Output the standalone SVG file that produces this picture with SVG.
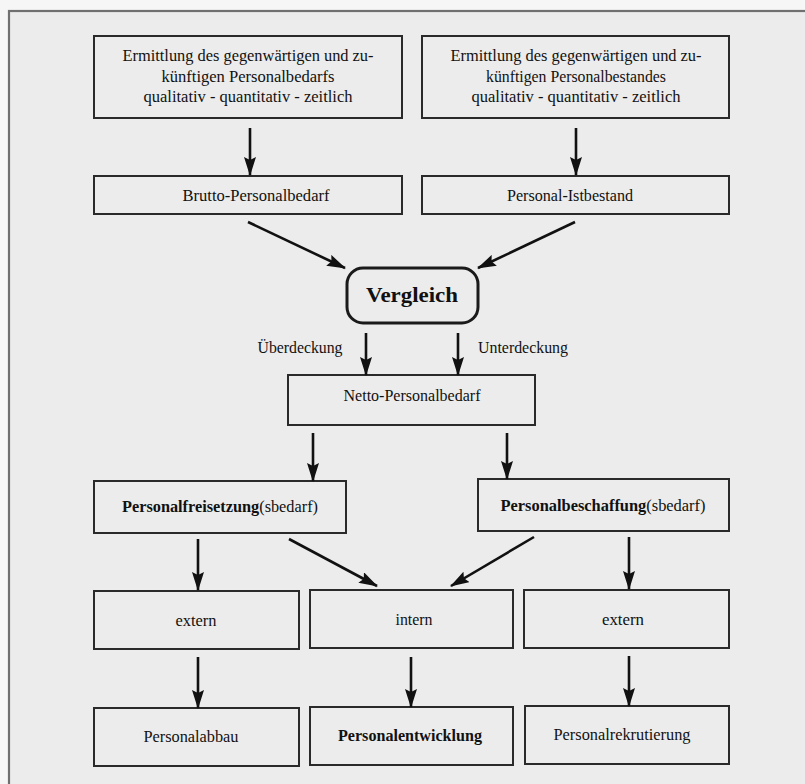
<svg xmlns="http://www.w3.org/2000/svg" width="805" height="784" viewBox="0 0 805 784">
<defs>
<marker id="ah" markerWidth="19" markerHeight="12" refX="18" refY="6" orient="auto" markerUnits="userSpaceOnUse" viewBox="0 0 19 12">
<path d="M0,0 L19,6 L0,12 L3,6 z" fill="#111"/>
</marker>
<style>
.box{fill:none;stroke:#2a2a2a;stroke-width:2}
.t{font-family:"Liberation Serif","Times New Roman",serif;font-size:16px;fill:#111;text-anchor:middle}
.b{font-weight:bold}
.c line{stroke:#111;stroke-width:2.6;marker-end:url(#ah)}
</style>
</defs>
<rect x="0" y="0" width="805" height="784" fill="#f6f6f6"/>
<rect x="9" y="11" width="800" height="780" fill="#ececec" stroke="#707070" stroke-width="2.2"/>

<g id="n1"><rect class="box" x="94" y="36" width="308" height="82"/>
<text class="t" x="248" y="61" textLength="251" lengthAdjust="spacingAndGlyphs">Ermittlung des gegenwärtigen und zu-</text>
<text class="t" x="248" y="82" textLength="173" lengthAdjust="spacingAndGlyphs">künftigen Personalbedarfs</text>
<text class="t" x="248" y="102" textLength="209" lengthAdjust="spacingAndGlyphs">qualitativ - quantitativ - zeitlich</text></g>
<g id="n2"><rect class="box" x="422" y="36" width="307" height="82"/>
<text class="t" x="576" y="61" textLength="251" lengthAdjust="spacingAndGlyphs">Ermittlung des gegenwärtigen und zu-</text>
<text class="t" x="576" y="82" textLength="180" lengthAdjust="spacingAndGlyphs">künftigen Personalbestandes</text>
<text class="t" x="576" y="102" textLength="209" lengthAdjust="spacingAndGlyphs">qualitativ - quantitativ - zeitlich</text></g>
<g id="n3"><rect class="box" x="94" y="176" width="308" height="38"/>
<text class="t" x="256" y="201" textLength="147" lengthAdjust="spacingAndGlyphs">Brutto-Personalbedarf</text></g>
<g id="n4"><rect class="box" x="422" y="176" width="307" height="38"/>
<text class="t" x="570" y="201" textLength="126" lengthAdjust="spacingAndGlyphs">Personal-Istbestand</text></g>
<g id="n5"><rect x="347" y="268" width="131" height="55" rx="16" fill="none" stroke="#1a1a1a" stroke-width="3"/>
<text class="t b" x="412" y="302" style="font-size:22px" textLength="92" lengthAdjust="spacingAndGlyphs">Vergleich</text></g>
<g id="l1"><text class="t" x="300" y="353" textLength="85" lengthAdjust="spacingAndGlyphs">Überdeckung</text></g>
<g id="l2"><text class="t" x="523" y="353" textLength="90" lengthAdjust="spacingAndGlyphs">Unterdeckung</text></g>
<g id="n6"><rect class="box" x="288" y="375" width="247" height="50"/>
<text class="t" x="412" y="401" textLength="137" lengthAdjust="spacingAndGlyphs">Netto-Personalbedarf</text></g>
<g id="n7"><rect class="box" x="94" y="481" width="252" height="52"/>
<text class="t" x="220" y="512" textLength="196" lengthAdjust="spacingAndGlyphs"><tspan class="b">Personalfreisetzung</tspan>(sbedarf)</text></g>
<g id="n8"><rect class="box" x="478" y="479" width="251" height="52"/>
<text class="t" x="603" y="511" textLength="205" lengthAdjust="spacingAndGlyphs"><tspan class="b">Personalbeschaffung</tspan>(sbedarf)</text></g>
<g id="n9"><rect class="box" x="94" y="591" width="205" height="58"/>
<text class="t" x="196" y="626" textLength="41" lengthAdjust="spacingAndGlyphs">extern</text></g>
<g id="n10"><rect class="box" x="310" y="590" width="203" height="58"/>
<text class="t" x="414" y="625" textLength="37" lengthAdjust="spacingAndGlyphs">intern</text></g>
<g id="n11"><rect class="box" x="524" y="590" width="205" height="58"/>
<text class="t" x="623" y="625" textLength="42" lengthAdjust="spacingAndGlyphs">extern</text></g>
<g id="n12"><rect class="box" x="94" y="708" width="205" height="58"/>
<text class="t" x="191" y="742" textLength="95" lengthAdjust="spacingAndGlyphs">Personalabbau</text></g>
<g id="n13"><rect class="box" x="310" y="707" width="203" height="58"/>
<text class="t b" x="410" y="741" textLength="144" lengthAdjust="spacingAndGlyphs">Personalentwicklung</text></g>
<g id="n14"><rect class="box" x="525" y="706" width="204" height="58"/>
<text class="t" x="622" y="740" textLength="137" lengthAdjust="spacingAndGlyphs">Personalrekrutierung</text></g>

<g id="connectors" class="c">
<line x1="250" y1="128" x2="250" y2="175"/>
<line x1="576" y1="128" x2="576" y2="175"/>
<line x1="248" y1="222" x2="345" y2="268"/>
<line x1="575" y1="222" x2="478" y2="268"/>
<line x1="366" y1="333" x2="366" y2="375"/>
<line x1="458" y1="333" x2="458" y2="375"/>
<line x1="313" y1="433" x2="313" y2="481"/>
<line x1="507" y1="433" x2="507" y2="479"/>
<line x1="198" y1="539" x2="198" y2="590"/>
<line x1="289" y1="539" x2="377" y2="586"/>
<line x1="534" y1="537" x2="451" y2="586"/>
<line x1="629" y1="537" x2="629" y2="589"/>
<line x1="198" y1="657" x2="198" y2="708"/>
<line x1="411" y1="657" x2="411" y2="707"/>
<line x1="629" y1="656" x2="629" y2="706"/>
</g>
</svg>
